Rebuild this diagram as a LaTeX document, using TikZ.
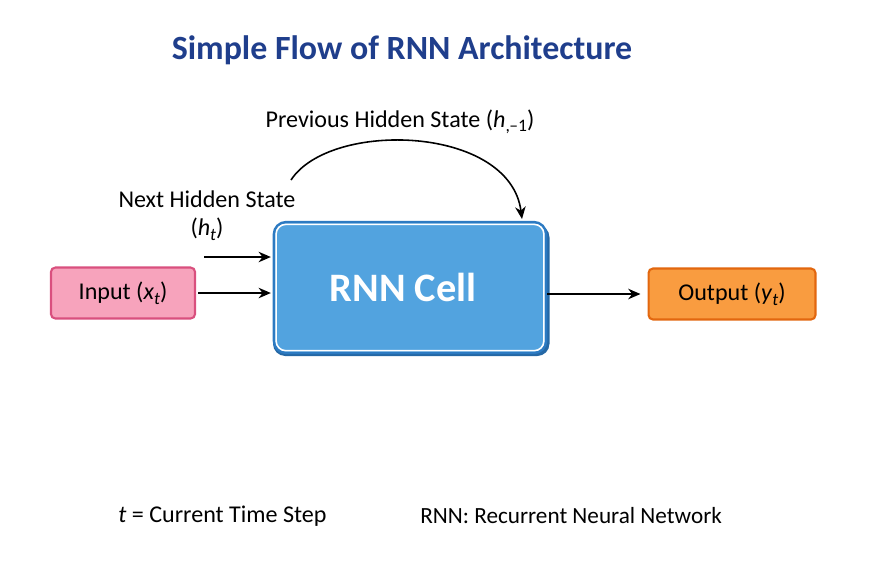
\documentclass[tikz,border=0pt]{standalone}
\usepackage{fontspec}
\setmainfont{Carlito}
\usetikzlibrary{arrows.meta}
\definecolor{titleblue}{HTML}{1F3E8C}
\definecolor{pinkfill}{HTML}{F7A3BC}
\definecolor{pinkdraw}{HTML}{D9507E}
\definecolor{bluefill}{HTML}{52A3DF}
\definecolor{bluedraw}{HTML}{2C7AC2}
\definecolor{orangefill}{HTML}{F99C40}
\definecolor{orangedraw}{HTML}{E2670F}
\newcommand{\sbs}[1]{\raisebox{-0.4ex}{\fontsize{10}{12}\selectfont #1}}
\tikzset{
  lbl/.style={font=\fontsize{13.7}{16}\selectfont, text=black, inner sep=0pt},
  smallbox/.style={rounded corners=2.5pt, line width=1.2pt, minimum height=29pt, inner sep=0pt,
     font=\fontsize{13.7}{16}\selectfont},
  arr/.style={-{Stealth[length=7pt,width=6pt]}, line width=0.9pt, black},
}
\begin{document}
\begin{tikzpicture}[x=0.02cm,y=-0.02cm]
\useasboundingbox (0,0) rectangle (875,583);
% title
\node[font=\fontsize{19.3}{22}\selectfont\bfseries, text=titleblue, inner sep=0pt] (title) at (402,50) {Simple Flow of RNN Architecture};
% boxes
\node[smallbox, draw=pinkdraw, fill=pinkfill, minimum width=82pt] (input) at (123,293) {Input (\textit{x}\sbs{\textit{t}})};
\node[smallbox, draw=orangedraw, fill=orangefill, minimum width=95pt] (output) at (732,294) {Output (\textit{y}\sbs{\textit{t}})};
% RNN cell with shadow
\fill[bluedraw!85!black, rounded corners=7pt] (273,225) rectangle (549.5,356);
\node[draw=bluedraw, fill=bluefill, line width=1.4pt, rounded corners=7pt, minimum width=155pt, minimum height=74.5pt, inner sep=0pt] (cell) at (410,287.5) {};
\draw[white, line width=0.9pt, rounded corners=5.5pt] ([xshift=2pt,yshift=-2pt]cell.north west) rectangle ([xshift=-2pt,yshift=2pt]cell.south east);
\node[font=\fontsize{23}{26}\selectfont\bfseries, text=white, inner sep=0pt] (celltext) at (403,287.5) {RNN Cell};
% labels
\node[lbl] (prev) at (400,122) {Previous Hidden State (\textit{h}\sbs{,–1})};
\node[lbl] (next) at (207,199) {Next Hidden State};
\node[lbl] (ht) at (207,229) {(\textit{h}\sbs{\textit{t}})};
% arrows
\coordinate (nstart) at (204,257);
\coordinate (cstart) at (291,180);
\coordinate (cend) at (522,219);
\draw[arr] (input.east) ++(2,0) coordinate (istart) -- ([xshift=-1pt]istart -| cell.west);
\draw[arr] (nstart) -- ([xshift=-1pt]nstart -| cell.west);
\draw[arr] (cell.east |- output.west) -- ([xshift=-4pt]output.west);
\draw[arr] (cstart) .. controls (330,120) and (510,125) .. (cend);
% footer
\node[lbl, anchor=west] (tnote) at (118,516) {\textit{t} = Current Time Step};
\node[lbl, anchor=west, font=\fontsize{13.2}{16}\selectfont] (rnote) at (420,516) {RNN: Recurrent Neural Network};
\end{tikzpicture}
\end{document}
